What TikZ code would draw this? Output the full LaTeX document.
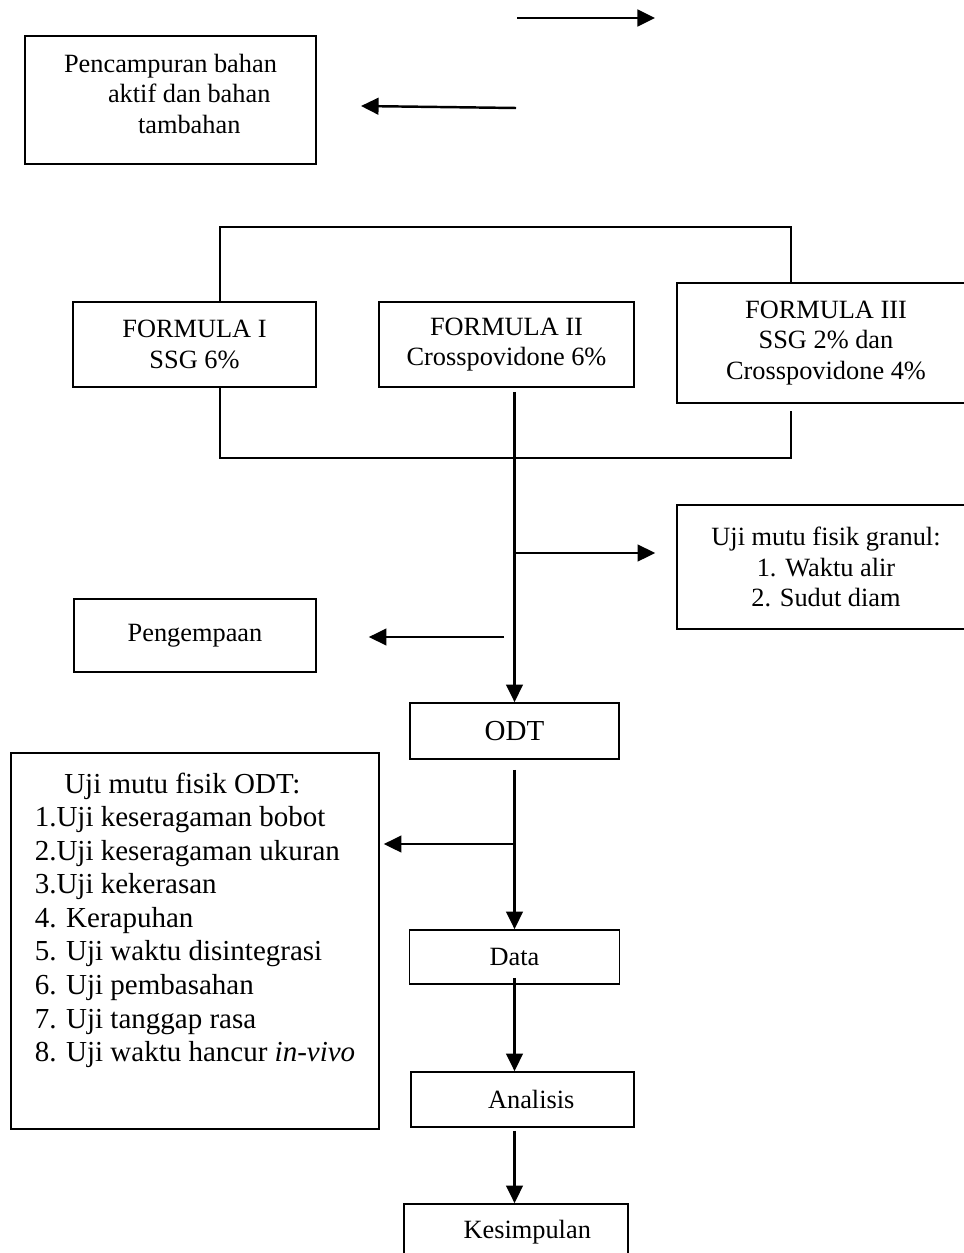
\documentclass[tikz,border=0pt]{standalone}
\usepackage{fontspec}
\setmainfont{Liberation Serif}
\usetikzlibrary{arrows.meta,calc}
\begin{document}
\begin{tikzpicture}[x=0.02cm,y=-0.02cm,
  box/.style={draw,line width=1pt,align=center,inner sep=0pt,font=\fontsize{15}{17.3}\selectfont},
  bigbox/.style={box,font=\fontsize{16.5}{19.1}\selectfont},
  arr/.style={line width=1.4pt,-{Triangle[length=10pt,width=9.5pt]}},
  link/.style={line width=1pt}]
\useasboundingbox (0,0) rectangle (963,1253);
\node[box,align=left,minimum width=5.82cm,minimum height=2.56cm] (mix) at (170.5,100) {Pencampuran bahan\\\hspace*{0.88cm}aktif dan bahan\\\hspace*{1.48cm}tambahan\\[-10pt]~};
\node[box,minimum width=4.86cm,minimum height=1.7cm] (f1) at (194.5,344.5) {FORMULA I\\SSG 6\%};
\node[box,minimum width=5.1cm,minimum height=1.7cm] (f2) at (506.5,344.5) {FORMULA II\\Crosspovidone 6\%};
\node[box,minimum width=5.96cm,minimum height=2.4cm] (f3) at (826,343) {FORMULA III\\SSG 2\% dan\\Crosspovidone 4\%};
\node[box,minimum width=5.96cm,minimum height=2.48cm] (granul) at (826,567) {Uji mutu fisik granul:\\1. Waktu alir\\2. Sudut diam};
\node[box,minimum width=4.84cm,minimum height=1.46cm] (press) at (195,635.5) {Pengempaan};
\node[bigbox,minimum width=4.18cm,minimum height=1.12cm] (odt) at (514.5,731) {ODT};
\node[bigbox,align=left,minimum width=7.36cm,minimum height=7.52cm] (tests) at (195,941) {\hspace*{0.59cm}Uji mutu fisik ODT:\\1.Uji keseragaman bobot\\2.Uji keseragaman ukuran\\3.Uji kekerasan\\4. Kerapuhan\\5. Uji waktu disintegrasi\\6. Uji pembasahan\\7. Uji tanggap rasa\\8. Uji waktu hancur \textit{in-vivo}\\[8pt]~};
\node[box,minimum width=4.2cm,minimum height=1.08cm] (data) at (514.5,957) {Data};
\node[box,minimum width=4.46cm,minimum height=1.1cm] (analisis) at (522.5,1099.5) {\hspace*{0.35cm}Analisis};
\node[box,minimum width=4.48cm,minimum height=1.12cm] (kes) at (516,1232) {\hspace*{0.45cm}Kesimpulan};
\coordinate (topA) at (517,18);
\coordinate (topB) at (655,18);
\coordinate (backA) at (516,108);
\coordinate (backB) at (361,106);
\coordinate (splitL) at (220,227);
\coordinate (splitR) at (791,227);
\coordinate (joinL) at (220,458);
\coordinate (joinR) at (791,458);
\coordinate (tapG) at (514.5,553);
\coordinate (pressA) at (504,637);
\coordinate (tapT) at (514.5,844);
\draw[arr] (topA) -- (topB);
\draw[arr] (backA) -- (backB);
\draw[link] (f1.north -| splitL) -- (splitL) -- (splitR) -- (f3.north -| splitR);
\draw[link] (f1.south -| joinL) -- (joinL) -- (joinR) -- ($(f3.south -| joinR)+(0,7)$);
\draw[arr] ($(odt.north |- f2.south)+(0,4)$) -- (odt.north);
\draw[arr] (tapG) -- ($(granul.west |- tapG)+(-21,0)$);
\draw[arr] (pressA) -- ($(press.east |- pressA)+(52,0)$);
\draw[arr] ($(odt.south)+(0,10)$) -- (data.north);
\draw[arr] (tapT) -- ($(tests.east |- tapT)+(4,0)$);
\draw[arr] ($(data.south)+(0,-7)$) -- (data.south |- analisis.north);
\draw[arr] ($(data.south |- analisis.south)+(0,3)$) -- (data.south |- kes.north);
\end{tikzpicture}
\end{document}
